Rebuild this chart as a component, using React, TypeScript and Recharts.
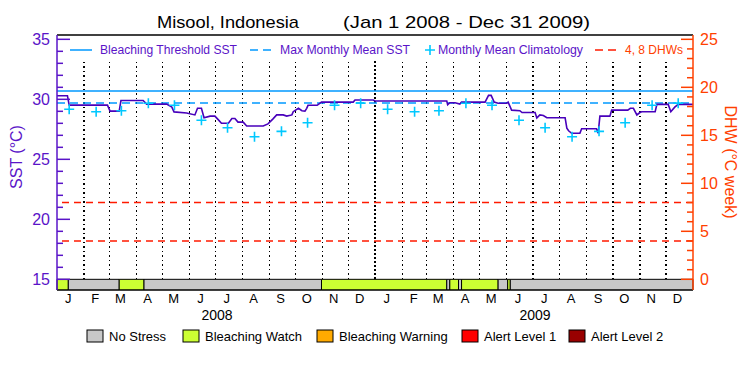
import React from 'react';
import { ComposedChart, XAxis, YAxis, Line, Scatter, ReferenceLine, ReferenceArea } from 'recharts';

// day index from Jan 1 2008
const monthStarts = [0, 31, 60, 91, 121, 152, 182, 213, 244, 274, 305, 335, 366, 397, 425, 456, 486, 517, 547, 578, 609, 639, 670, 700];
const monthLetters = ['J', 'F', 'M', 'A', 'M', 'J', 'J', 'A', 'S', 'O', 'N', 'D', 'J', 'F', 'M', 'A', 'M', 'J', 'J', 'A', 'S', 'O', 'N', 'D'];
const yearLabels = ['2008', '2009'];

// monthly mean climatology (same every year)
const climMonthly = [29.17, 28.97, 29.05, 29.67, 29.5, 28.25, 27.63, 26.88, 27.33, 28.05, 29.5, 29.68];

// daily SST, read at the break points of the trace
const sstDays = [0, 12, 14, 58, 61, 71.5, 73.5, 99, 103, 126, 132, 134.5, 149, 158.5, 161.5, 166, 169, 176, 181.5, 185, 189, 197, 201, 204.5, 208, 214, 218, 237, 242.5, 248, 252.5, 260, 264, 270, 271.5, 277.5, 281.5, 285, 287, 288.5, 299, 302, 304, 340.5, 342.5, 363.5, 365.5, 448, 449, 451.5, 457.5, 463, 465, 492, 496, 499, 502.5, 507, 517, 518.5, 522.5, 532, 534.5, 549.5, 551.5, 555, 559, 563, 584, 586, 588, 591.5, 601, 603, 620, 622, 624, 635.5, 637.5, 656, 659, 662.5, 666.5, 670, 672, 687.5, 689.5, 702.5, 705.5, 710, 714, 731];
const sstValues = [30.3, 30.3, 29.52, 29.52, 29.02, 29.02, 29.9, 29.9, 29.6, 29.6, 29.35, 28.95, 28.86, 28.7, 29.25, 29.25, 28.47, 28.6, 28.6, 28.33, 28.0, 28.0, 28.4, 28.4, 28.1, 28.1, 27.78, 27.78, 27.95, 28.35, 28.7, 28.7, 28.6, 28.7, 28.97, 29.25, 29.05, 29.02, 29.25, 29.5, 29.5, 29.67, 29.77, 29.77, 29.94, 29.94, 29.86, 29.86, 29.55, 29.72, 29.72, 29.6, 29.77, 29.77, 30.33, 30.33, 29.77, 29.67, 29.67, 29.77, 29.1, 29.05, 28.9, 28.9, 28.45, 28.7, 28.65, 28.47, 28.47, 27.6, 27.38, 27.17, 27.17, 27.55, 27.55, 27.17, 28.6, 28.6, 29.1, 29.1, 29.25, 29.25, 28.7, 28.9, 28.97, 28.97, 29.58, 29.58, 28.97, 29.35, 29.58, 29.58];

const bleachingThreshold = 30.7;
const maxMonthlyMean = 29.7;
const dhwLevels = [4, 8];

// stress level bar
const stressFrom = [0, 13, 71.5, 100, 304, 448, 451.5, 461.5, 465, 507, 518, 521];
const stressTo = [13, 71.5, 100, 304, 448, 451.5, 461.5, 465, 507, 518, 521, 731];
const stressLevel = [1, 0, 1, 0, 1, 0, 1, 0, 1, 0, 1, 0];
const stressNames = ['No Stress', 'Bleaching Watch', 'Bleaching Warning', 'Alert Level 1', 'Alert Level 2'];
const stressColors = ['#c8c8c8', '#ccff33', '#ffaa00', '#ff0000', '#990000'];

const sstTicks = [15, 16, 17, 18, 19, 20, 21, 22, 23, 24, 25, 26, 27, 28, 29, 30, 31, 32, 33, 34, 35];
const dhwTicks = [0, 1, 2, 3, 4, 5, 6, 7, 8, 9, 10, 11, 12, 13, 14, 15, 16, 17, 18, 19, 20, 21, 22, 23, 24, 25];

const PURPLE = '#5a14c8';
const LINE_PURPLE = '#4800bb';
const ORANGE = '#ff4000';
const BLUE = '#0099ff';
const CYAN = '#00c8ff';
const FONT = '"Liberation Sans", Arial, sans-serif';

const SST_MIN = 14.11;
const SST_MAX = 35.36;
const GRID_TOP = 33.3; // grid stops under the legend row

const sstData = sstDays.map((d, i) => ({ day: d, sst: sstValues[i] }));
const climData = [0, 1].flatMap((y) => climMonthly.map((v, i) => ({ day: monthStarts[y * 12 + i] + 14, clim: v })));
const labelDays = monthStarts.map((d) => d + 13);

const LeftTick = (props: any) => {
  const { x, y, payload } = props;
  const major = payload.value % 5 === 0;
  return (
    <g>
      <line x1={x} x2={x + (major ? 13 : 6)} y1={y} y2={y} stroke={PURPLE} strokeWidth={1.5} />
      {major && (
        <text x={x - 7} y={y} dy="0.36em" textAnchor="end" fill={PURPLE} fontSize={16} fontFamily={FONT}>
          {payload.value}
        </text>
      )}
    </g>
  );
};

const RightTick = (props: any) => {
  const { x, y, payload } = props;
  const major = payload.value % 5 === 0;
  return (
    <g>
      <line x1={x} x2={x - (major ? 12 : 6)} y1={y} y2={y} stroke={ORANGE} strokeWidth={1.5} />
      {major && (
        <text x={x + 7} y={y} dy="0.36em" textAnchor="start" fill={ORANGE} fontSize={16} fontFamily={FONT}>
          {payload.value}
        </text>
      )}
    </g>
  );
};

const Plus = (props: any) => {
  const { cx, cy } = props;
  return <path d={`M${cx - 5},${cy}H${cx + 5}M${cx},${cy - 5}V${cy + 5}`} stroke={CYAN} strokeWidth={1.6} fill="none" />;
};

const legendBoxX = [87, 183, 317, 462, 569];

const App: React.FC = () => {
  return (
    <div style={{ position: 'absolute', left: 0, top: 0, width: 750, height: 375, background: '#fff' }}>
      <ComposedChart width={750} height={375} margin={{ top: 35, right: 0, bottom: 55, left: 0 }}>
        <XAxis
          xAxisId="x"
          dataKey="day"
          type="number"
          domain={[0, 731]}
          allowDataOverflow
          ticks={labelDays}
          interval={0}
          tickFormatter={(v: number) => monthLetters[labelDays.indexOf(v)]}
          tick={{ fill: '#000', fontSize: 13, fontFamily: FONT }}
          tickLine={false}
          tickSize={0}
          tickMargin={4}
          height={30}
          axisLine={{ stroke: '#000' }}
        />
        <YAxis
          yAxisId="sst"
          type="number"
          domain={[SST_MIN, SST_MAX]}
          allowDataOverflow
          ticks={sstTicks}
          interval={0}
          width={57}
          tick={<LeftTick />}
          tickLine={false}
          tickSize={0}
          tickMargin={0}
          axisLine={{ stroke: PURPLE, strokeWidth: 1.5 }}
        />
        <YAxis
          yAxisId="dhw"
          orientation="right"
          type="number"
          domain={[-1.115, 25.45]}
          allowDataOverflow
          ticks={dhwTicks}
          interval={0}
          width={57}
          tick={<RightTick />}
          tickLine={false}
          tickSize={0}
          tickMargin={0}
          axisLine={{ stroke: ORANGE, strokeWidth: 1.5 }}
        />
        {monthStarts.slice(1).map((d) => (
          <ReferenceLine
            key={'g' + d}
            xAxisId="x"
            yAxisId="sst"
            segment={[{ x: d, y: 15 }, { x: d, y: GRID_TOP }]}
            stroke="#000"
            strokeWidth={d === 366 ? 2 : 1.2}
            strokeDasharray={d === 366 ? '2 2' : '1.5 3'}
            shapeRendering="crispEdges"
          />
        ))}
        <ReferenceLine xAxisId="x" yAxisId="sst" y={SST_MAX} stroke="#000" strokeWidth={1.5} />
        {dhwLevels.map((v) => (
          <ReferenceLine key={'d' + v} xAxisId="x" yAxisId="dhw" y={v} stroke="#ff1a00" strokeWidth={1.5} strokeDasharray="7 5" />
        ))}
        <ReferenceLine xAxisId="x" yAxisId="sst" y={bleachingThreshold} stroke={BLUE} strokeWidth={1.5} />
        <ReferenceLine xAxisId="x" yAxisId="sst" y={maxMonthlyMean} stroke={BLUE} strokeWidth={1.5} strokeDasharray="8 5" />
        {stressFrom.map((f, i) => (
          <ReferenceArea
            key={'s' + i}
            xAxisId="x"
            yAxisId="sst"
            x1={f}
            x2={stressTo[i]}
            y1={SST_MIN}
            y2={15}
            fill={stressColors[stressLevel[i]]}
            fillOpacity={1}
            stroke="#000"
            strokeWidth={1}
          />
        ))}
        <Line
          xAxisId="x"
          yAxisId="sst"
          data={sstData}
          dataKey="sst"
          type="linear"
          stroke={LINE_PURPLE}
          strokeWidth={1.6}
          dot={false}
          isAnimationActive={false}
        />
        <Scatter xAxisId="x" yAxisId="sst" data={climData} dataKey="clim" shape={<Plus />} isAnimationActive={false} />
      </ComposedChart>

      <svg width={750} height={375} style={{ position: 'absolute', left: 0, top: 0, pointerEvents: 'none' }} fontFamily={FONT}>
        <text x={157} y={28} fontSize={17} fill="#000" textLength={142} lengthAdjust="spacingAndGlyphs">
          Misool, Indonesia
        </text>
        <text x={343} y={28} fontSize={17} fill="#000" textLength={247} lengthAdjust="spacingAndGlyphs">
          (Jan 1 2008 - Dec 31 2009)
        </text>

        <line x1={70} x2={92} y1={50} y2={50} stroke={BLUE} strokeWidth={1.5} />
        <text x={100} y={54} fontSize={12} fill={PURPLE} textLength={137} lengthAdjust="spacingAndGlyphs">Bleaching Threshold SST</text>
        <line x1={250} x2={273} y1={50} y2={50} stroke={BLUE} strokeWidth={1.5} strokeDasharray="8 5" />
        <text x={280} y={54} fontSize={12} fill={PURPLE} textLength={130} lengthAdjust="spacingAndGlyphs">Max Monthly Mean SST</text>
        <path d="M425,50H435M430,45V55" stroke={CYAN} strokeWidth={1.6} />
        <text x={438} y={54} fontSize={12} fill={PURPLE} textLength={145} lengthAdjust="spacingAndGlyphs">Monthly Mean Climatology</text>
        <line x1={595} x2={618} y1={50} y2={50} stroke="#ff1a00" strokeWidth={1.5} strokeDasharray="8 5" />
        <text x={625} y={54} fontSize={12} fill={ORANGE} textLength={58} lengthAdjust="spacingAndGlyphs">4, 8 DHWs</text>

        <text x={16} y={157} fontSize={16} fill={PURPLE} textAnchor="middle" dy="0.36em" transform="rotate(-90 16 157)">
          SST (°C)
        </text>
        <text x={731} y={162} fontSize={16} fill={ORANGE} textAnchor="middle" dy="0.36em" transform="rotate(90 731 162)">
          DHW (°C week)
        </text>

        <text x={217} y={320} fontSize={14} fill="#000" textAnchor="middle">{yearLabels[0]}</text>
        <text x={535} y={320} fontSize={14} fill="#000" textAnchor="middle">{yearLabels[1]}</text>

        {stressNames.map((n, i) => (
          <g key={n}>
            <rect x={legendBoxX[i]} y={330} width={16} height={12} fill={stressColors[i]} stroke="#000" strokeWidth={1} />
            <text x={legendBoxX[i] + 22} y={341} fontSize={13} fill="#000">{n}</text>
          </g>
        ))}
      </svg>
    </div>
  );
};

export default App;
